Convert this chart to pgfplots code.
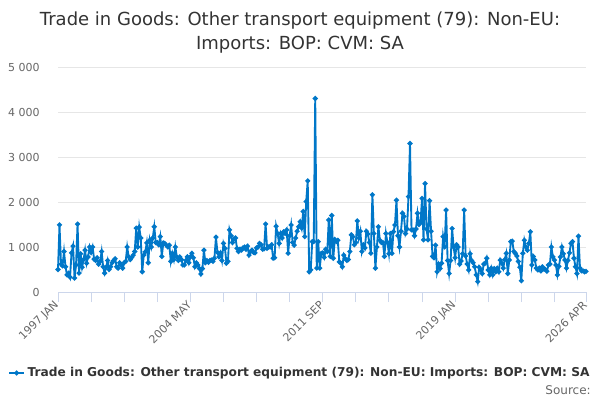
\documentclass[border=0pt]{standalone}
\usepackage{pgfplots}
\pgfplotsset{compat=1.18}
\usepackage{pgfplotstable}
\usepackage{fontspec}
\setmainfont{DejaVu Sans}
\definecolor{lineblue}{RGB}{0,119,200}
\definecolor{axisgray}{HTML}{CCD6EB}
\definecolor{gridgray}{HTML}{E6E6E6}
\definecolor{labelgray}{HTML}{666666}
\definecolor{titlegray}{HTML}{333333}

\pgfplotstableread[row sep=\\]{
v\\
500\\ 1490\\ 620\\ 580\\ 900\\ 560\\ 380\\ 420\\ 330\\ 870\\ 1020\\ 310\\
600\\ 1510\\ 420\\ 850\\ 550\\ 720\\ 930\\ 640\\ 780\\ 1000\\ 880\\ 1000\\
730\\ 700\\ 760\\ 620\\ 680\\ 900\\ 560\\ 420\\ 550\\ 700\\ 500\\ 560\\
650\\ 700\\ 740\\ 560\\ 530\\ 650\\ 600\\ 530\\ 650\\ 680\\ 1000\\ 780\\
720\\ 770\\ 820\\ 900\\ 1420\\ 1000\\ 1440\\ 1200\\ 450\\ 820\\ 890\\ 1090\\
650\\ 1150\\ 1000\\ 1200\\ 1450\\ 1100\\ 1100\\ 1050\\ 1230\\ 790\\ 1090\\ 1080\\
1040\\ 1000\\ 1040\\ 680\\ 860\\ 720\\ 1000\\ 780\\ 700\\ 780\\ 720\\ 600\\
600\\ 700\\ 780\\ 650\\ 780\\ 860\\ 760\\ 560\\ 650\\ 600\\ 520\\ 400\\
520\\ 930\\ 650\\ 700\\ 660\\ 700\\ 710\\ 680\\ 750\\ 1220\\ 880\\ 780\\
870\\ 700\\ 1080\\ 970\\ 640\\ 680\\ 1380\\ 1250\\ 1100\\ 1180\\ 1200\\ 970\\
900\\ 950\\ 930\\ 980\\ 1000\\ 950\\ 1020\\ 820\\ 900\\ 930\\ 880\\ 870\\
980\\ 1000\\ 1080\\ 1050\\ 950\\ 960\\ 1510\\ 970\\ 1000\\ 1000\\ 1050\\ 750\\
760\\ 1460\\ 1300\\ 1080\\ 1300\\ 1200\\ 1340\\ 1300\\ 1380\\ 860\\ 1250\\ 1490\\
1100\\ 1040\\ 1200\\ 1350\\ 1450\\ 1560\\ 1420\\ 1790\\ 1230\\ 2010\\ 2470\\ 450\\
490\\ 1120\\ 1120\\ 4300\\ 530\\ 1120\\ 530\\ 860\\ 870\\ 770\\ 950\\ 900\\
1600\\ 790\\ 1700\\ 750\\ 1170\\ 1120\\ 1150\\ 670\\ 640\\ 560\\ 820\\ 740\\
700\\ 720\\ 900\\ 1270\\ 1230\\ 1050\\ 1100\\ 1580\\ 1200\\ 1350\\ 900\\ 1050\\
980\\ 1350\\ 1290\\ 1100\\ 860\\ 2160\\ 1300\\ 530\\ 1000\\ 1450\\ 1150\\ 1100\\
1100\\ 790\\ 1300\\ 1100\\ 850\\ 1300\\ 860\\ 1340\\ 1490\\ 2040\\ 1250\\ 1000\\
1350\\ 1750\\ 1680\\ 1300\\ 1400\\ 2120\\ 3300\\ 1380\\ 1380\\ 1250\\ 1400\\ 1750\\
1500\\ 1550\\ 2080\\ 1160\\ 2410\\ 1400\\ 1160\\ 2030\\ 1350\\ 790\\ 760\\ 1040\\
450\\ 620\\ 520\\ 640\\ 1230\\ 1000\\ 1820\\ 700\\ 410\\ 700\\ 1410\\ 1000\\
760\\ 1050\\ 1000\\ 620\\ 690\\ 850\\ 1820\\ 800\\ 620\\ 490\\ 850\\ 700\\
650\\ 560\\ 380\\ 230\\ 550\\ 490\\ 410\\ 620\\ 640\\ 750\\ 490\\ 380\\
530\\ 380\\ 520\\ 450\\ 530\\ 450\\ 710\\ 640\\ 530\\ 720\\ 860\\ 410\\
710\\ 1120\\ 1130\\ 900\\ 860\\ 800\\ 680\\ 550\\ 250\\ 860\\ 1150\\ 1000\\
930\\ 1080\\ 1340\\ 600\\ 790\\ 710\\ 530\\ 490\\ 530\\ 470\\ 560\\ 510\\
500\\ 460\\ 600\\ 620\\ 1000\\ 780\\ 710\\ 600\\ 380\\ 570\\ 780\\ 1000\\
850\\ 710\\ 530\\ 700\\ 870\\ 1080\\ 1120\\ 750\\ 560\\ 410\\ 1240\\ 530\\
470\\ 470\\ 450\\ 460\\
}\datatable

\begin{document}
\begin{tikzpicture}[x=0.75pt,y=0.75pt]
\path[use as bounding box] (0,0) rectangle (600,-400);
\node[font=\fontsize{13.5}{16}\selectfont, text=titlegray] at (300,-21) {Trade in Goods: Other transport equipment (79): Non-EU:};
\node[font=\fontsize{13.5}{16}\selectfont, text=titlegray] at (300,-45) {Imports: BOP: CVM: SA};
\begin{axis}[
  at={(43.5pt,-219pt)}, anchor=south west,
  scale only axis, width=396pt, height=168.75pt,
  xmin=0, xmax=351, ymin=0, ymax=5000,
  axis x line*=bottom, axis y line*=left,
  separate axis lines,
  x axis line style={axisgray, line width=0.75pt, -},
  y axis line style={draw=none},
  ytick={0,1000,2000,3000,4000,5000},
  yticklabels={0,1 000,2 000,3 000,4 000,5 000},
  ytick style={draw=none},
  ymajorgrids, grid style={gridgray, line width=0.75pt},
  yticklabel style={font=\fontsize{8.25}{10}\selectfont, text=labelgray, inner sep=0pt, anchor=east, xshift=-6pt},
  xtick={0,88,176,264,351},
  xticklabels={1997 JAN,2004 MAY,2011 SEP,2019 JAN,2026 APR},
  minor xtick={22,44,66,110,132,154,198,220,242,286,308,330},
  tick align=outside,
  major tick length=7.5pt, minor tick length=7.5pt,
  xtick style={axisgray, line width=0.75pt},
  minor tick style={axisgray, line width=0.75pt},
  xticklabel style={font=\fontsize{8.25}{10}\selectfont, text=labelgray, rotate=45, anchor=east, inner sep=1pt},
  clip=false,
  legend style={at={(0.459,-0.36)}, anchor=center, draw=none, fill=none,
    font=\bfseries\fontsize{9.15}{11}\selectfont, text=titlegray, inner sep=0pt},
  legend image code/.code={\draw[#1] (0pt,0pt) -- (11pt,0pt); \draw[#1,mark repeat=2,mark phase=2] plot coordinates {(0pt,0pt)(5.5pt,0pt)(11pt,0pt)};},
]
\addplot[lineblue, line width=1.4pt, mark=*, mark size=1.1pt, mark options={solid, fill=lineblue, draw=lineblue}] table[x expr=\coordindex, y=v] {\datatable};
\addlegendentry{Trade in Goods: Other transport equipment (79): Non-EU: Imports: BOP: CVM: SA}
\end{axis}
\node[anchor=east, inner sep=0pt, font=\fontsize{9}{11}\selectfont, text=labelgray] at (591,-390) {Source:};
\end{tikzpicture}
\end{document}
